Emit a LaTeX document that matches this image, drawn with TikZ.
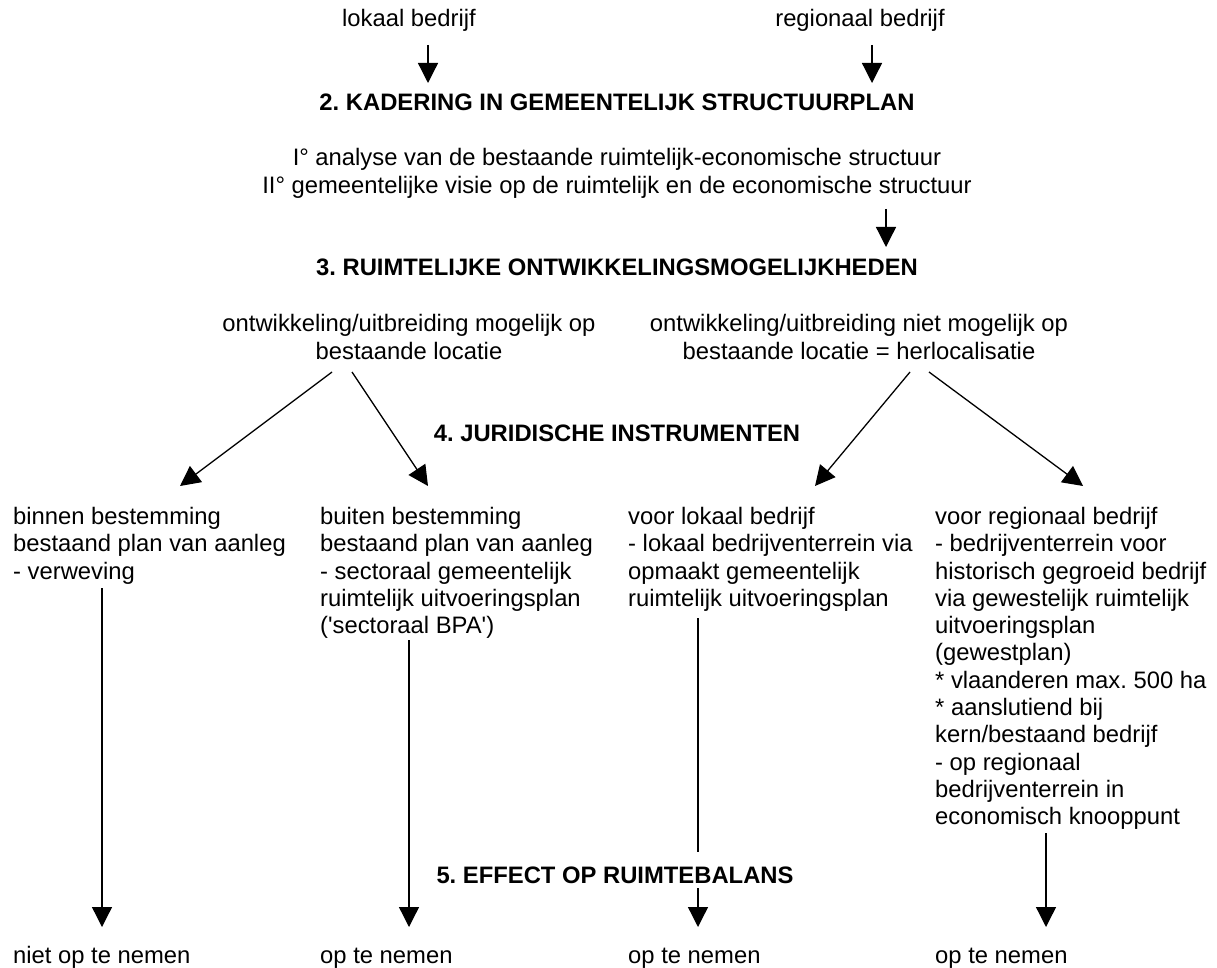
\documentclass[tikz,border=0pt]{standalone}
\usepackage{fontspec}
\setmainfont{Liberation Sans}
\usetikzlibrary{arrows.meta}
\frenchspacing

\begin{document}
\begin{tikzpicture}[
    x=1pt, y=-1pt,
    every node/.style={inner sep=0pt, font=\fontsize{23.8}{27.3}\selectfont},
    txt/.style={anchor=base},
    heading/.style={anchor=base, font=\fontsize{23.8}{27.3}\selectfont\bfseries},
    choice/.style={anchor=north, align=center},
    column/.style={anchor=north west, align=left},
    result/.style={anchor=base west},
    arrow/.style={-{Triangle[length=20pt,width=20pt]}, line width=1.3pt, black},
    stem/.style={line width=1.3pt, black}
]
\useasboundingbox (0,0) rectangle (1217,968);

% 1. starting point
\node[txt] (lok) at (409,26.5) {lokaal bedrijf};
\node[txt] (reg) at (860,26.5) {regionaal bedrijf};

% 2. structuurplan
\node[heading] (kad) at (617,111) {2. KADERING IN GEMEENTELIJK STRUCTUURPLAN};
\node[choice] (visie) at (617,148.5) {I° analyse van de bestaande ruimtelijk-economische structuur\\II° gemeentelijke visie op de ruimtelijk en de economische structuur};

% 3. mogelijkheden
\node[heading] (ruim) at (617,275.5) {3. RUIMTELIJKE ONTWIKKELINGSMOGELIJKHEDEN};
\node[choice] (mog) at (409,314.5) {ontwikkeling/uitbreiding mogelijk op\\bestaande locatie};
\node[choice] (nmog) at (859,314.5) {ontwikkeling/uitbreiding niet mogelijk op\\bestaande locatie = herlocalisatie};

% 4. instrumenten
\node[heading] (jur) at (617,441.5) {4. JURIDISCHE INSTRUMENTEN};
\node[column] (binnen) at (13,507) {binnen bestemming\\bestaand plan van aanleg\\- verweving};
\node[column] (buiten) at (320,507) {buiten bestemming\\bestaand plan van aanleg\\- sectoraal gemeentelijk\\ruimtelijk uitvoeringsplan\\(\textquotesingle sectoraal BPA\textquotesingle)};
\node[column] (vlok) at (628,507) {voor lokaal bedrijf\\- lokaal bedrijventerrein via\\opmaakt gemeentelijk\\ruimtelijk uitvoeringsplan};
\node[column] (vreg) at (935,507) {voor regionaal bedrijf\\- bedrijventerrein voor\\historisch gegroeid bedrijf\\via gewestelijk ruimtelijk\\uitvoeringsplan\\(gewestplan)\\* vlaanderen max. 500 ha\\* aanslutiend bij\\kern/bestaand bedrijf\\- op regionaal\\bedrijventerrein in\\economisch knooppunt};

% 5. ruimtebalans
\node[heading] (eff) at (615,883) {5. EFFECT OP RUIMTEBALANS};
\node[result] (res1) at (13,963) {niet op te nemen};
\node[result] (res2) at (320,963) {op te nemen};
\node[result] (res3) at (628,963) {op te nemen};
\node[result] (res4) at (935,963) {op te nemen};

% arrow ends
\coordinate (lok-out) at (428,45);   \coordinate (kad-in1) at (428,83);
\coordinate (reg-out) at (872,45);   \coordinate (kad-in2) at (872,83);
\coordinate (visie-out) at (886,209); \coordinate (ruim-in) at (886,247);
\coordinate (mog-out1) at (332,372); \coordinate (binnen-in) at (180,486);
\coordinate (mog-out2) at (352,372); \coordinate (buiten-in) at (428,486);
\coordinate (nmog-out1) at (910,372); \coordinate (vlok-in) at (815,486);
\coordinate (nmog-out2) at (929,372); \coordinate (vreg-in) at (1083,486);
\coordinate (binnen-out) at (102,588); \coordinate (res1-in) at (102,927);
\coordinate (buiten-out) at (409,640); \coordinate (res2-in) at (409,927);
\coordinate (vlok-out) at (698,618);  \coordinate (eff-top) at (698,852);
\coordinate (eff-bot) at (698,888);   \coordinate (res3-in) at (698,927);
\coordinate (vreg-out) at (1046,833); \coordinate (res4-in) at (1046,927);

\draw[arrow] (lok-out) -- (kad-in1);
\draw[arrow] (reg-out) -- (kad-in2);
\draw[arrow] (visie-out) -- (ruim-in);
\draw[arrow] (mog-out1) -- (binnen-in);
\draw[arrow] (mog-out2) -- (buiten-in);
\draw[arrow] (nmog-out1) -- (vlok-in);
\draw[arrow] (nmog-out2) -- (vreg-in);
\draw[arrow] (binnen-out) -- (res1-in);
\draw[arrow] (buiten-out) -- (res2-in);
\draw[stem] (vlok-out) -- (eff-top);
\draw[arrow] (eff-bot) -- (res3-in);
\draw[arrow] (vreg-out) -- (res4-in);
\end{tikzpicture}
\end{document}
